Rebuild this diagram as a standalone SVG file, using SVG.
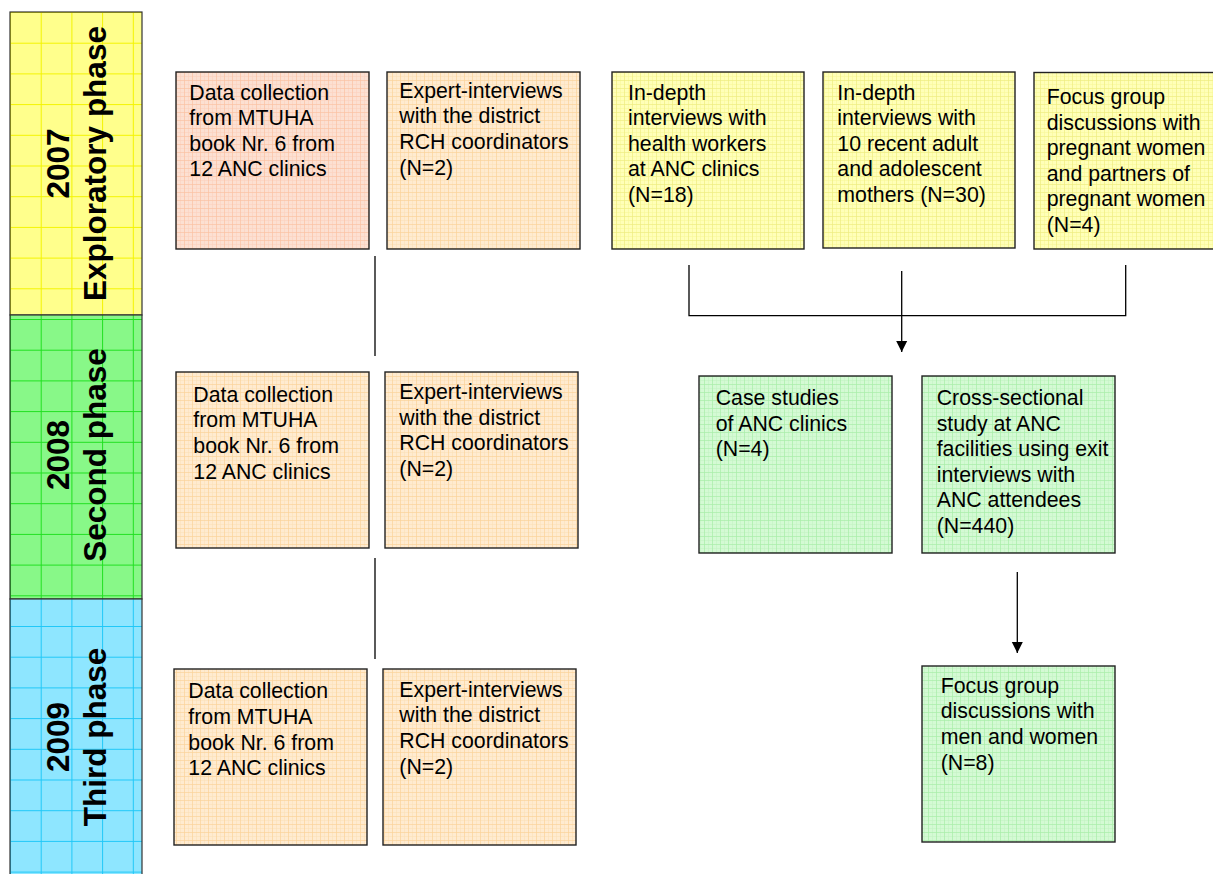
<svg xmlns="http://www.w3.org/2000/svg" width="1213" height="874" viewBox="0 0 1213 874">
<style>
.t{font-family:"Liberation Sans",Arial,sans-serif;font-size:21.3px;fill:#000}
.b{font-family:"Liberation Sans",Arial,sans-serif;font-size:31.5px;font-weight:bold;fill:#000;text-anchor:middle}
.box{stroke:#222;stroke-width:1.4}
.con{stroke:#000;stroke-width:1.3;fill:none}
</style>
<defs>
<pattern id="barY" patternUnits="userSpaceOnUse" x="10" y="12" width="30.7" height="30.7">
<rect width="30.7" height="30.7" fill="#FFFF8C"/>
<path d="M0 0.5H30.7M0.5 0V30.7" stroke="#F4F400" stroke-width="1"/>
</pattern>
<pattern id="barG" patternUnits="userSpaceOnUse" x="10" y="12" width="30.7" height="30.7">
<rect width="30.7" height="30.7" fill="#88F888"/>
<path d="M0 0.5H30.7M0.5 0V30.7" stroke="#20E020" stroke-width="1"/>
</pattern>
<pattern id="barB" patternUnits="userSpaceOnUse" x="10" y="12" width="30.7" height="30.7">
<rect width="30.7" height="30.7" fill="#8EE6FF"/>
<path d="M0 0.5H30.7M0.5 0V30.7" stroke="#20C8F8" stroke-width="1"/>
</pattern>
<pattern id="pSal" patternUnits="userSpaceOnUse" width="8" height="8">
<rect width="8" height="8" fill="#FCE0D2"/>
<path d="M0 4.5H8M4.5 0V8" stroke="#FBD2BE" stroke-width="0.6"/>
<path d="M0 0.5H8M0.5 0V8" stroke="#FAC2A4" stroke-width="0.7"/>
</pattern>
<pattern id="pPch" patternUnits="userSpaceOnUse" width="8" height="8">
<rect width="8" height="8" fill="#FFEBD0"/>
<path d="M0 4.5H8M4.5 0V8" stroke="#FCE0B8" stroke-width="0.6"/>
<path d="M0 0.5H8M0.5 0V8" stroke="#FBD29A" stroke-width="0.7"/>
</pattern>
<pattern id="pYel" patternUnits="userSpaceOnUse" width="8" height="8">
<rect width="8" height="8" fill="#FFFFB8"/>
<path d="M0 4.5H8M4.5 0V8" stroke="#F8F89A" stroke-width="0.6"/>
<path d="M0 0.5H8M0.5 0V8" stroke="#EEEC80" stroke-width="0.7"/>
</pattern>
<pattern id="pGrn" patternUnits="userSpaceOnUse" width="8" height="8">
<rect width="8" height="8" fill="#D4FAD4"/>
<path d="M0 4.5H8M4.5 0V8" stroke="#C2F4C2" stroke-width="0.6"/>
<path d="M0 0.5H8M0.5 0V8" stroke="#A8EEA8" stroke-width="0.7"/>
</pattern>
<marker id="arr" markerWidth="12" markerHeight="12" refX="11" refY="6" orient="auto" markerUnits="userSpaceOnUse">
<path d="M0 0.5L11 6L0 11.5Z" fill="#000"/>
</marker>
</defs>
<rect width="1213" height="874" fill="#fff"/>

<g id="phase-bar">
<g id="phase-2007">
<rect x="10" y="12" width="132" height="303" fill="url(#barY)" stroke="#333" stroke-width="1.2"/>
<text class="b" transform="rotate(-90)" x="-163.5" y="69.3">2007</text>
<text class="b" transform="rotate(-90)" x="-163.5" y="105.5">Exploratory phase</text>
</g>
<g id="phase-2008">
<rect x="10" y="315" width="132" height="284" fill="url(#barG)" stroke="#333" stroke-width="1.2"/>
<text class="b" transform="rotate(-90)" x="-455" y="69.3">2008</text>
<text class="b" transform="rotate(-90)" x="-455" y="105.5">Second phase</text>
</g>
<g id="phase-2009">
<rect x="10" y="599" width="132" height="280" fill="url(#barB)" stroke="#333" stroke-width="1.2"/>
<text class="b" transform="rotate(-90)" x="-737" y="69.3">2009</text>
<text class="b" transform="rotate(-90)" x="-737" y="105.5">Third phase</text>
</g>
</g>

<g id="connectors">
<line class="con" x1="375" y1="256" x2="375" y2="356" stroke="#444"/>
<line class="con" x1="375" y1="558" x2="375" y2="659" stroke="#444"/>
<polyline class="con" points="689,265 689,315.7 1125.7,315.7 1125.7,265"/>
<line class="con" x1="901.7" y1="271" x2="901.7" y2="352" marker-end="url(#arr)"/>
<line class="con" x1="1017.3" y1="572" x2="1017.3" y2="653" marker-end="url(#arr)"/>
</g>

<g id="n1">
<rect class="box" x="176" y="72" width="193" height="177" fill="url(#pSal)"/>
<text class="t" x="189.3" y="99.5">Data collection</text>
<text class="t" x="189.3" y="125.1">from MTUHA</text>
<text class="t" x="189.3" y="150.7">book Nr. 6 from</text>
<text class="t" x="189.3" y="176.3">12 ANC clinics</text>
</g>
<g id="n2">
<rect class="box" x="387" y="72" width="193" height="177" fill="url(#pPch)"/>
<text class="t" x="399.3" y="97.7">Expert-interviews</text>
<text class="t" x="399.3" y="123.3">with the district</text>
<text class="t" x="399.3" y="148.9">RCH coordinators</text>
<text class="t" x="399.3" y="174.5">(N=2)</text>
</g>
<g id="n3">
<rect class="box" x="612" y="72" width="192" height="177" fill="url(#pYel)"/>
<text class="t" x="628" y="99.5">In-depth</text>
<text class="t" x="628" y="125.1">interviews with</text>
<text class="t" x="628" y="150.7">health workers</text>
<text class="t" x="628" y="176.3">at ANC clinics</text>
<text class="t" x="628" y="201.9">(N=18)</text>
</g>
<g id="n4">
<rect class="box" x="823" y="72" width="192" height="176" fill="url(#pYel)"/>
<text class="t" x="837.3" y="99.5">In-depth</text>
<text class="t" x="837.3" y="125.1">interviews with</text>
<text class="t" x="837.3" y="150.7">10 recent adult</text>
<text class="t" x="837.3" y="176.3">and adolescent</text>
<text class="t" x="837.3" y="201.9">mothers (N=30)</text>
</g>
<g id="n5">
<rect class="box" x="1034" y="72.5" width="192" height="176.5" fill="url(#pYel)"/>
<text class="t" x="1046.7" y="104">Focus group</text>
<text class="t" x="1046.7" y="129.6">discussions with</text>
<text class="t" x="1046.7" y="155.2">pregnant women</text>
<text class="t" x="1046.7" y="180.8">and partners of</text>
<text class="t" x="1046.7" y="206.4">pregnant women</text>
<text class="t" x="1046.7" y="232">(N=4)</text>
</g>

<g id="n6">
<rect class="box" x="176" y="372" width="193" height="176" fill="url(#pPch)"/>
<text class="t" x="193.3" y="401.7">Data collection</text>
<text class="t" x="193.3" y="427.3">from MTUHA</text>
<text class="t" x="193.3" y="452.9">book Nr. 6 from</text>
<text class="t" x="193.3" y="478.5">12 ANC clinics</text>
</g>
<g id="n7">
<rect class="box" x="385" y="372" width="193" height="176" fill="url(#pPch)"/>
<text class="t" x="399.3" y="399">Expert-interviews</text>
<text class="t" x="399.3" y="424.6">with the district</text>
<text class="t" x="399.3" y="450.2">RCH coordinators</text>
<text class="t" x="399.3" y="475.8">(N=2)</text>
</g>
<g id="n8">
<rect class="box" x="699" y="376" width="193" height="177" fill="url(#pGrn)"/>
<text class="t" x="715.7" y="405">Case studies</text>
<text class="t" x="715.7" y="430.6">of ANC clinics</text>
<text class="t" x="715.7" y="456.2">(N=4)</text>
</g>
<g id="n9">
<rect class="box" x="922" y="376" width="193" height="177" fill="url(#pGrn)"/>
<text class="t" x="936.7" y="405">Cross-sectional</text>
<text class="t" x="936.7" y="430.6">study at ANC</text>
<text class="t" x="936.7" y="456.2">facilities using exit</text>
<text class="t" x="936.7" y="481.8">interviews with</text>
<text class="t" x="936.7" y="507.4">ANC attendees</text>
<text class="t" x="936.7" y="533">(N=440)</text>
</g>

<g id="n10">
<rect class="box" x="174" y="669" width="193" height="176" fill="url(#pPch)"/>
<text class="t" x="188.3" y="698.3">Data collection</text>
<text class="t" x="188.3" y="723.9">from MTUHA</text>
<text class="t" x="188.3" y="749.5">book Nr. 6 from</text>
<text class="t" x="188.3" y="775.1">12 ANC clinics</text>
</g>
<g id="n11">
<rect class="box" x="383" y="669" width="193" height="176" fill="url(#pPch)"/>
<text class="t" x="399.3" y="696.7">Expert-interviews</text>
<text class="t" x="399.3" y="722.3">with the district</text>
<text class="t" x="399.3" y="747.9">RCH coordinators</text>
<text class="t" x="399.3" y="773.5">(N=2)</text>
</g>
<g id="n12">
<rect class="box" x="922" y="666" width="193" height="176" fill="url(#pGrn)"/>
<text class="t" x="940.7" y="692.7">Focus group</text>
<text class="t" x="940.7" y="718.3">discussions with</text>
<text class="t" x="940.7" y="743.9">men and women</text>
<text class="t" x="940.7" y="769.5">(N=8)</text>
</g>
</svg>
